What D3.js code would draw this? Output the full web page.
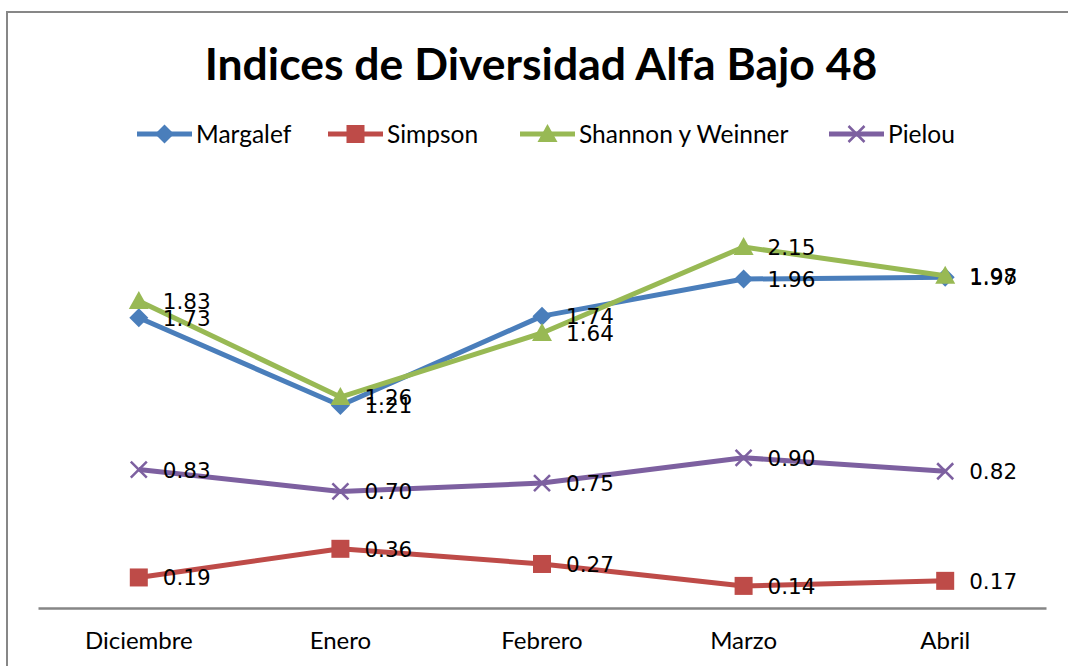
<!DOCTYPE html>
<html>
<head>
<meta charset="utf-8">
<script src="https://cdn.jsdelivr.net/npm/d3@7"></script>
<style>
  body { margin: 0; background: #ffffff; }
</style>
</head>
<body>
<svg id="chart"></svg>
<script>
const meses = ['Diciembre', 'Enero', 'Febrero', 'Marzo', 'Abril'];
const margalef = [1.73, 1.21, 1.74, 1.96, 1.97];
const simpson = [0.19, 0.36, 0.27, 0.14, 0.17];
const shannon = [1.83, 1.26, 1.64, 2.15, 1.98];
const pielou = [0.83, 0.70, 0.75, 0.90, 0.82];
const nombres = ['Margalef', 'Simpson', 'Shannon y Weinner', 'Pielou'];

const ancho = 1068;
const alto = 666;
const svg = d3.select('#chart').attr('width', ancho).attr('height', alto);

// marco del grafico
svg.append('rect')
    .attr('x', 7).attr('y', 12)
    .attr('width', 1100).attr('height', 700)
    .attr('fill', '#ffffff')
    .attr('stroke', '#878787')
    .attr('stroke-width', 2);

svg.append('text')
    .attr('x', 541).attr('y', 80)
    .attr('text-anchor', 'middle')
    .style('font-family', 'Lato, sans-serif')
    .style('font-weight', 'bold')
    .style('font-size', '44.5px')
    .attr('fill', '#000')
    .text('Indices de Diversidad Alfa Bajo 48');

const series = [
    { nombre: nombres[0], valores: margalef, color: '#4A7EBB', marca: 'diamond' },
    { nombre: nombres[1], valores: simpson, color: '#BE4B48', marca: 'square' },
    { nombre: nombres[2], valores: shannon, color: '#98B954', marca: 'triangle' },
    { nombre: nombres[3], valores: pielou, color: '#7D60A0', marca: 'x' }
];

const izq = 38, der = 1046, arriba = 188, abajo = 609.5, ejeY = 608;
const escalaX = d3.scaleBand().domain(meses).range([izq, der]);
const escalaY = d3.scaleLinear().domain([0, 2.5]).range([abajo, arriba]);
const cx = function (m) { return escalaX(m) + escalaX.bandwidth() / 2; };

const ejeX = d3.axisBottom(escalaX).tickSize(0).tickPadding(24);
const gEje = svg.append('g')
    .attr('transform', 'translate(0,' + ejeY + ')')
    .call(ejeX);
gEje.select('.domain').attr('stroke', '#868686').attr('stroke-width', 2.5);
gEje.selectAll('text')
    .style('font-family', 'Lato, sans-serif')
    .style('font-size', '24px')
    .attr('fill', '#000');

function dibujaMarca (g, tipo, color) {
    if (tipo === 'diamond') {
        g.append('path').attr('d', 'M0,-9.5L9.5,0L0,9.5L-9.5,0Z').attr('fill', color);
    } else if (tipo === 'square') {
        g.append('rect').attr('x', -9).attr('y', -9).attr('width', 18).attr('height', 18).attr('fill', color);
    } else if (tipo === 'triangle') {
        g.append('path').attr('d', 'M0,-10L10,8L-10,8Z').attr('fill', color);
    } else {
        g.append('path').attr('d', 'M-8,-8L8,8M-8,8L8,-8')
            .attr('stroke', color).attr('stroke-width', 2.5).attr('fill', 'none');
    }
}

const linea = d3.line()
    .x(function (d, i) { return cx(meses[i]); })
    .y(function (d) { return escalaY(d); });

series.forEach(function (s) {
    svg.append('path')
        .attr('d', linea(s.valores))
        .attr('fill', 'none')
        .attr('stroke', s.color)
        .attr('stroke-width', 5)
        .attr('stroke-linejoin', 'round');
    s.valores.forEach(function (v, i) {
        const g = svg.append('g')
            .attr('transform', 'translate(' + cx(meses[i]) + ',' + escalaY(v) + ')');
        dibujaMarca(g, s.marca, s.color);
    });
});

// etiquetas de datos
series.forEach(function (s) {
    s.valores.forEach(function (v, i) {
        svg.append('text')
            .attr('x', cx(meses[i]) + 24)
            .attr('y', escalaY(v) + 8)
            .style('font-family', 'DejaVu Sans, sans-serif')
            .style('font-size', '21.5px')
            .attr('fill', '#000')
            .text(v.toFixed(2));
    });
});

// leyenda
const leyendaX = [137, 328, 520, 829];
series.forEach(function (s, i) {
    const g = svg.append('g').attr('transform', 'translate(' + leyendaX[i] + ',134)');
    g.append('line').attr('x1', 0).attr('x2', 55).attr('y1', 0).attr('y2', 0)
        .attr('stroke', s.color).attr('stroke-width', 5);
    dibujaMarca(g.append('g').attr('transform', 'translate(27.5,0)'), s.marca, s.color);
    g.append('text')
        .attr('x', 59).attr('y', 8.5)
        .style('font-family', 'Lato, sans-serif')
        .style('font-size', '24.5px')
        .attr('fill', '#000')
        .text(s.nombre);
});
</script>
</body>
</html>
